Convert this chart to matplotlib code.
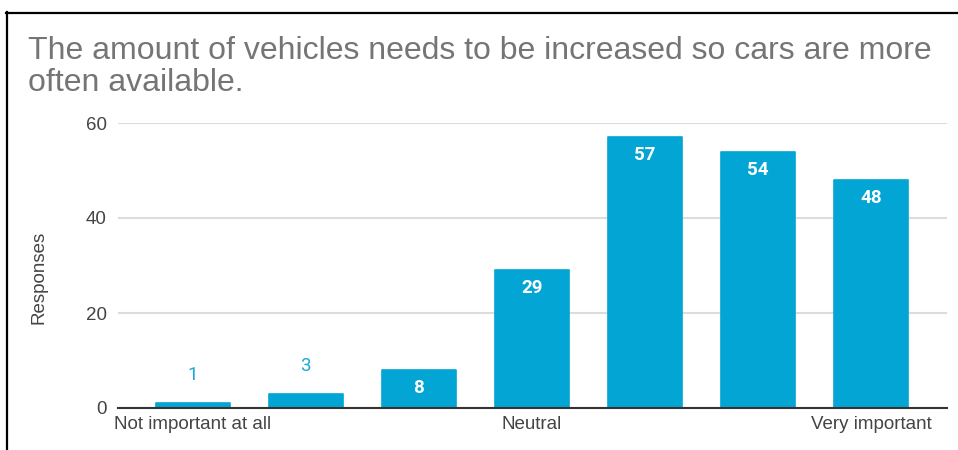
import matplotlib
matplotlib.use("Agg")
import matplotlib.pyplot as plt
from matplotlib.lines import Line2D

categories = ["Not important at all", "", "", "Neutral", "", "", "Very important"]
responses = [1, 3, 8, 29, 57, 54, 48]
y_ticks = [0, 20, 40, 60]
title = "The amount of vehicles needs to be increased so cars are more\noften available."
y_label = "Responses"

BAR = "#02A5D4"
TEXT = "#444444"
SANS = ["Liberation Sans", "DejaVu Sans"]

fig = plt.figure(figsize=(9.58, 4.5), dpi=100)
ax = fig.add_axes([118 / 958, 42 / 450, 829 / 958, 285 / 450])

x = list(range(len(responses)))
ax.bar(x, responses, width=0.655, color=BAR, edgecolor=BAR, linewidth=1.2,
       joinstyle="round", zorder=3)

for xi, v in zip(x, responses):
    if v >= 6:
        ax.annotate(str(v), (xi, v), xytext=(0, -13), textcoords="offset points",
                    ha="center", va="center", color="white", fontsize=13.5,
                    fontweight="bold", family=["Roboto", "DejaVu Sans"], zorder=4)
    else:
        ax.annotate(str(v), (xi, v), xytext=(0, 20), textcoords="offset points",
                    ha="center", va="center", color="#1BA8DA", fontsize=13.5,
                    family=["Roboto", "DejaVu Sans"], zorder=4)

ax.set_xlim(-0.66, len(responses) - 1 + 0.67)
ax.set_ylim(0, 60)
ax.set_yticks(y_ticks)
ax.set_yticklabels([str(t) for t in y_ticks], family=SANS, fontsize=13.5, color=TEXT)
ax.set_xticks(x)
ax.set_xticklabels(categories, family=SANS, fontsize=13.5, color=TEXT)
ax.tick_params(axis="both", length=0)
ax.tick_params(axis="y", pad=8)
ax.tick_params(axis="x", pad=6)

ax.grid(axis="y", color="#DCDCDC", linewidth=1.5, zorder=0)
ax.set_axisbelow(True)
for side in ["top", "right", "left"]:
    ax.spines[side].set_visible(False)
ax.spines["bottom"].set_color("#333333")
ax.spines["bottom"].set_linewidth(1.5)
ax.spines["bottom"].set_zorder(5)

ax.set_ylabel(y_label, family=SANS, fontsize=13.5, color=TEXT)
ax.yaxis.set_label_coords(-0.097 + 10 / 829, 0.46)

fig.text(28 / 958, 1 - 36 / 450, title, family=SANS, fontsize=23,
         color="#757575", ha="left", va="top", linespacing=1.08)

# frame lines along the top and left edges
fig.add_artist(Line2D([6.5 / 958, 6.5 / 958], [0, 1 - 12 / 450],
                      transform=fig.transFigure, color="black", linewidth=1.6))
fig.add_artist(Line2D([6 / 958, 1], [1 - 12.5 / 450, 1 - 12.5 / 450],
                      transform=fig.transFigure, color="black", linewidth=1.6))

fig.savefig("out.png", dpi=100)
